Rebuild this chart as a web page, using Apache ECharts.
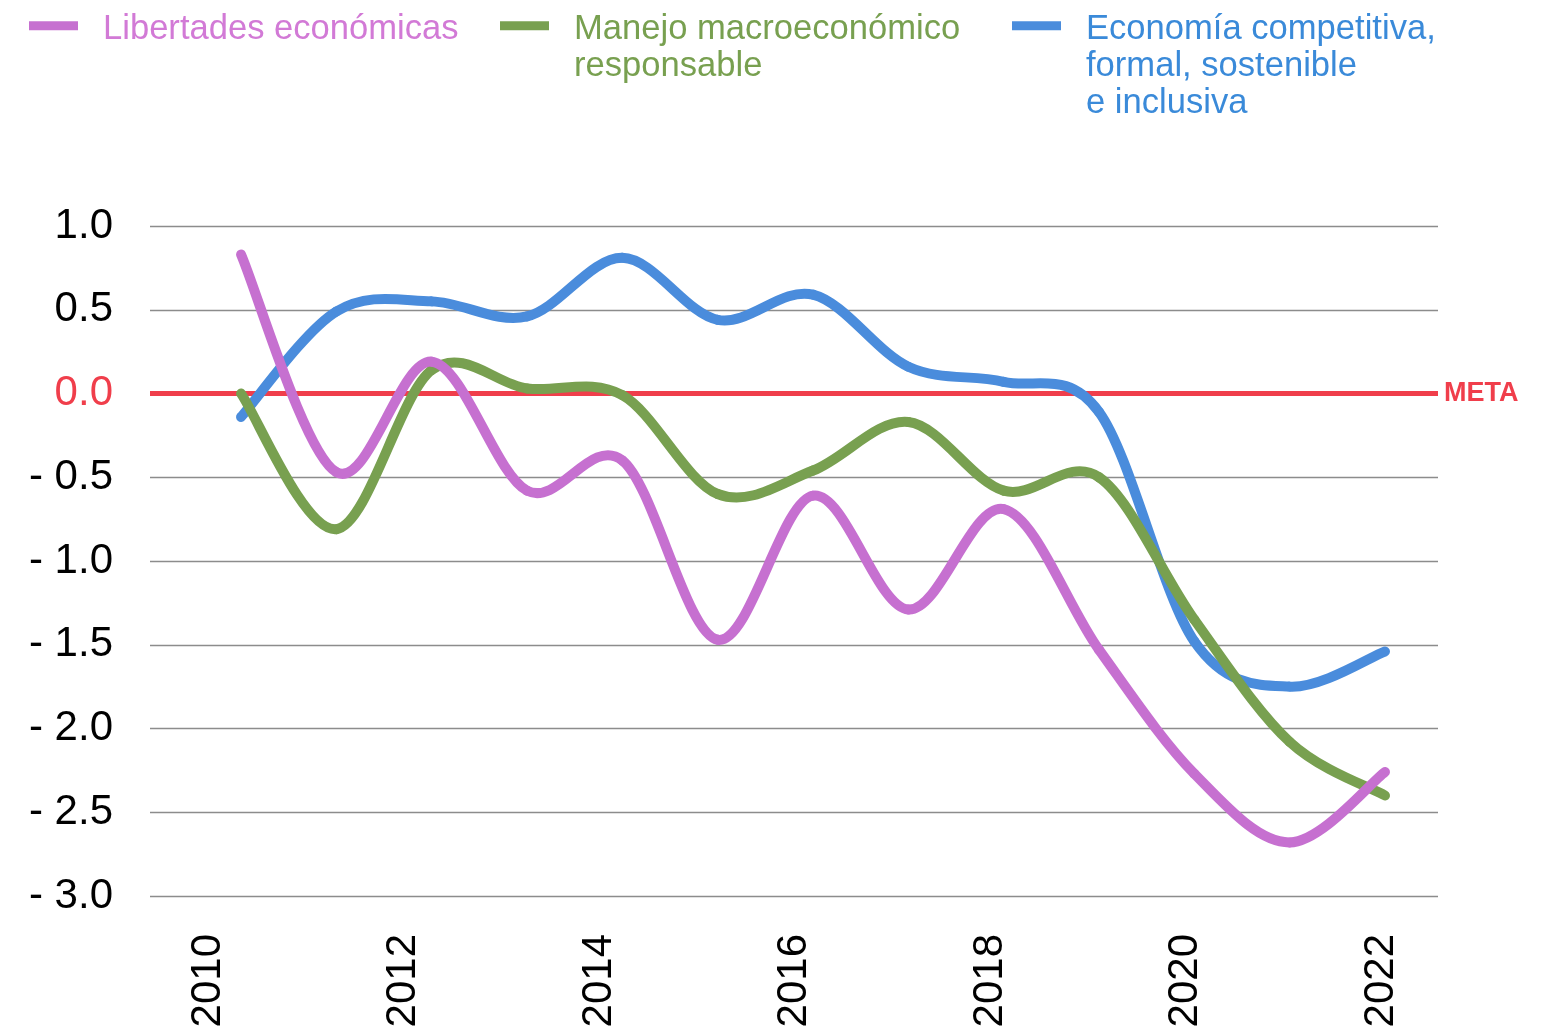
<!DOCTYPE html>
<html>
<head>
<meta charset="utf-8">
<script src="https://cdn.jsdelivr.net/npm/echarts@6/dist/echarts.min.js"></script>
<style>
html,body{margin:0;padding:0;background:#ffffff;}
#chart{width:1541px;height:1032px;}
</style>
</head>
<body>
<div id="chart"></div>
<script>
// ---- data ----
const years = [2010, 2011, 2012, 2013, 2014, 2015, 2016, 2017, 2018, 2019, 2020, 2021, 2022];
const libertades = [0.83, -0.47, 0.19, -0.58, -0.40, -1.47, -0.61, -1.29, -0.69, -1.53, -2.27, -2.68, -2.26];
const manejo = [0.00, -0.81, 0.14, 0.03, -0.01, -0.60, -0.46, -0.17, -0.58, -0.50, -1.35, -2.08, -2.40];
const economia = [-0.14, 0.49, 0.55, 0.46, 0.81, 0.44, 0.59, 0.16, 0.07, -0.11, -1.48, -1.75, -1.54];
const yearTickLabels = [2010, 2012, 2014, 2016, 2018, 2020, 2022];
const seriesNames = ['Libertades económicas', 'Manejo macroeconómico responsable', 'Economía competitiva, formal, sostenible e inclusiva'];
const legendLines = [
  ['Libertades económicas'],
  ['Manejo macroeconómico', 'responsable'],
  ['Economía competitiva,', 'formal, sostenible', 'e inclusiva']
];
const metaValue = 0;
const metaLabel = 'META';

// ---- styling ----
const FONT = "'Liberation Sans', Arial, Helvetica, sans-serif";
const RED = '#f03e4b';
const lineColors = ['#c670d0', '#78a050', '#4a8cdc'];
const textColors = ['#d27ad6', '#78a050', '#3a8ad9'];
const LEG_FS = 34.6, LEG_LH = 37.3, ICON_CY = 27, TXT_SHIFT = 3.5;
const legendLefts = [29, 500, 1012];

function pairs(vals) { return years.map((y, i) => [y, vals[i]]); }

function makeLegend(i) {
  const n = legendLines[i].length;
  const padTop = (n - 1) * LEG_LH + 2 * TXT_SHIFT;
  return {
    show: true,
    orient: 'horizontal',
    left: legendLefts[i],
    top: ICON_CY - (n * LEG_LH + padTop) / 2,
    padding: 0,
    icon: 'rect',
    itemWidth: 49,
    itemHeight: 9,
    itemStyle: { borderWidth: 0 },
    selectedMode: false,
    formatter: function () { return legendLines[i].map(function (l) { return '{t|' + l + '}'; }).join('\n'); },
    textStyle: {
      fontFamily: FONT, fontSize: LEG_FS, lineHeight: LEG_LH, color: textColors[i],
      rich: { t: { fontFamily: FONT, fontSize: LEG_FS, lineHeight: LEG_LH, color: textColors[i], padding: [padTop, 0, 0, 20] } }
    },
    data: [{ name: seriesNames[i] }]
  };
}

// Catmull-Rom segment from item k to item k+1, positioned through the axes (api.coord)
function renderSpline(params, api) {
  const n = params.dataInsideLength;
  const k = params.dataIndexInside;
  if (k >= n - 1) return null;
  function P(j) {
    const jj = Math.max(0, Math.min(n - 1, j));
    return api.coord([api.value(0, jj), api.value(1, jj)]);
  }
  const p0 = P(k - 1), p1 = P(k), p2 = P(k + 1), p3 = P(k + 2);
  return {
    type: 'bezierCurve',
    shape: {
      x1: p1[0], y1: p1[1], x2: p2[0], y2: p2[1],
      cpx1: p1[0] + (p2[0] - p0[0]) / 6, cpy1: p1[1] + (p2[1] - p0[1]) / 6,
      cpx2: p2[0] - (p3[0] - p1[0]) / 6, cpy2: p2[1] - (p3[1] - p1[1]) / 6
    },
    style: { fill: 'none', stroke: api.visual('color'), lineWidth: 10, lineCap: 'round', lineJoin: 'round' }
  };
}

function splineSeries(i, vals, z) {
  return {
    name: seriesNames[i],
    type: 'custom',
    coordinateSystem: 'cartesian2d',
    xAxisIndex: 0,
    yAxisIndex: 0,
    data: pairs(vals),
    encode: { x: 0, y: 1 },
    itemStyle: { color: lineColors[i] },
    renderItem: renderSpline,
    clip: false,
    silent: true,
    z: z
  };
}

const option = {
  animation: false,
  backgroundColor: '#ffffff',
  legend: [makeLegend(0), makeLegend(1), makeLegend(2)],
  grid: { left: 150, right: 103, top: 226, bottom: 136, containLabel: false, outerBoundsMode: 'none' },
  xAxis: [
    { type: 'value', min: 2009.045, max: 2022.556, show: false },
    {
      type: 'value', position: 'bottom', min: 2009.407, max: 2022.583,
      axisLine: { show: false }, axisTick: { show: false }, splitLine: { show: false },
      axisLabel: {
        customValues: yearTickLabels, rotate: 90, fontSize: 42, color: '#000000',
        margin: 38, fontFamily: FONT,
        formatter: function (v) { return String(Math.round(v)); }
      }
    }
  ],
  yAxis: {
    type: 'value', min: -3, max: 1, interval: 0.5,
    axisLine: { show: false }, axisTick: { show: false },
    splitLine: { show: true, lineStyle: { color: '#8c8c8c', width: 1.3 } },
    axisLabel: {
      fontSize: 42, margin: 37, fontFamily: FONT,
      color: function (v) { return Math.abs(v) < 1e-9 ? RED : '#000000'; },
      formatter: function (v) {
        if (Math.abs(v) < 1e-9) return '0.0';
        return v < 0 ? '- ' + Math.abs(v).toFixed(1) : v.toFixed(1);
      }
    }
  },
  series: [
    {
      name: metaLabel,
      type: 'line',
      xAxisIndex: 0,
      yAxisIndex: 0,
      data: [],
      silent: true,
      z: 1,
      markLine: {
        silent: true,
        z: 1,
        symbol: ['none', 'none'],
        lineStyle: { color: RED, width: 5, type: 'solid' },
        label: { show: true, position: 'end', formatter: metaLabel, color: RED, fontWeight: 'bold', fontSize: 27, fontFamily: FONT, distance: 6 },
        emphasis: { disabled: true },
        data: [{ yAxis: metaValue }]
      }
    },
    splineSeries(2, economia, 2),
    splineSeries(1, manejo, 3),
    splineSeries(0, libertades, 4)
  ]
};

const chart = echarts.init(document.getElementById('chart'), null, { renderer: 'canvas' });
chart.setOption(option);
</script>
</body>
</html>
